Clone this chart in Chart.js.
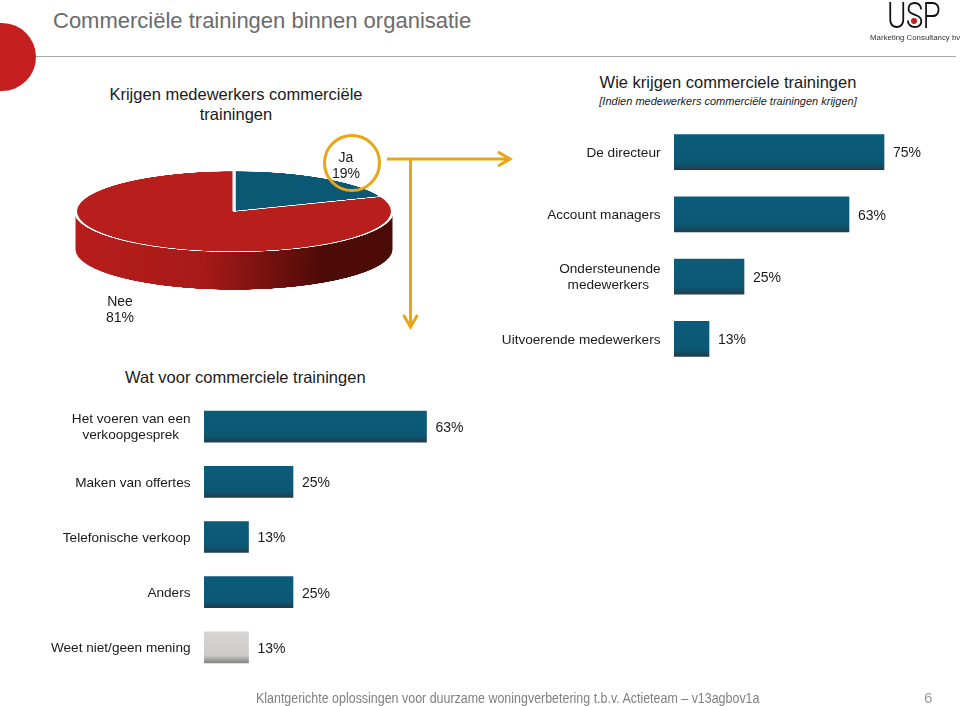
<!DOCTYPE html>
<html>
<head>
<meta charset="utf-8">
<title>Commerciële trainingen binnen organisatie</title>
<script src="https://cdn.jsdelivr.net/npm/chart.js@4"></script>
<style>
    html, body { margin: 0; padding: 0; background: #fff; }
    body { position: relative; width: 960px; height: 706px; overflow: hidden; font-family: "Liberation Sans", Arial, sans-serif; color: #1a1a1a; }
    .t { position: absolute; white-space: nowrap; line-height: 1; }
    .c { transform: translateX(-50%); text-align: center; }
    canvas { position: absolute; }
    #overlay { position: absolute; left: 0; top: 0; }
    #dot { position: absolute; left: -32px; top: 23px; width: 68px; height: 68px; border-radius: 50%; background: #c5201f; }
    #rule { position: absolute; left: 36px; top: 56px; width: 920px; height: 1px; background: #a9a9a9; }
</style>
</head>
<body>
<div id="dot"></div>
<div id="rule"></div>
<div class="t" style="left:53px;top:10px;font-size:22px;color:#6b6b6b">Commerciële trainingen binnen organisatie</div>

<div class="t c" style="left:236px;top:84px;font-size:16.500px;line-height:20px">Krijgen medewerkers commerciële<br>trainingen</div>
<div class="t c" style="left:728px;top:74px;font-size:16.500px">Wie krijgen commerciele trainingen</div>
<div class="t c" style="left:728px;top:96px;font-size:11px;font-style:italic">[Indien medewerkers commerciële trainingen krijgen]</div>
<div class="t" style="left:125px;top:369px;font-size:16.500px">Wat voor commerciele trainingen</div>

<canvas id="pieChart" width="340" height="500" style="left:64px;top:167.65px;width:340px;height:500px;transform-origin:0 0;transform:scaleY(0.255)"></canvas>
<canvas id="topChart" style="left:480px;top:121px"></canvas>
<canvas id="bottomChart" style="left:0;top:399px"></canvas>

<svg id="overlay" width="960" height="706">
    <circle cx="352" cy="163" r="27.5" fill="none" stroke="#e8a615" stroke-width="3"/>
    <path d="M387 159H509M498 152L510 159L498 166" fill="none" stroke="#e8a615" stroke-width="3"/>
    <path d="M410.500 159V326M403.500 315L410.500 327L417.500 315" fill="none" stroke="#e8a615" stroke-width="3"/>
</svg>

<div class="t c" style="left:346px;top:149px;font-size:14px;line-height:16px">Ja<br>19%</div>
<div class="t c" style="left:120px;top:293px;font-size:14px;line-height:16px">Nee<br>81%</div>

<div class="t" style="left:887px;top:-3px;font-size:37px;font-family:Roboto;font-weight:300;letter-spacing:-1px;color:#111;transform-origin:0 0;transform:scaleX(0.8)">USP</div>
<svg style="position:absolute;left:905px;top:12px" width="18" height="18"><circle cx="9" cy="9" r="3" fill="#c5201f"/></svg>
<div class="t" style="left:870px;top:34px;font-size:8px;color:#333;transform-origin:0 0;transform:scaleX(0.98)">Marketing Consultancy bv</div>

<div class="t" style="left:256px;top:691px;font-size:14px;color:#808080;transform-origin:0 0;transform:scaleX(0.889)">Klantgerichte oplossingen voor duurzame woningverbetering t.b.v. Actieteam – v13agbov1a</div>
<div class="t" style="left:924px;top:690px;font-size:15px;color:#9a9a9a">6</div>

<script>
    const pieLabels = ['Ja', 'Nee'];
    const pieValues = [19, 81];
    const pieColors = ['#0b5874', '#b71e1c'];

    const whoLabels = ['De directeur', 'Account managers', ['Ondersteunende', 'medewerkers'], 'Uitvoerende medewerkers'];
    const whoValues = [75, 62.5, 25, 12.5];
    const whoText = ['75%', '63%', '25%', '13%'];

    const whatLabels = [['Het voeren van een', 'verkoopgesprek'], 'Maken van offertes', 'Telefonische verkoop', 'Anders', 'Weet niet/geen mening'];
    const whatValues = [62.5, 25, 12.5, 25, 12.5];
    const whatText = ['63%', '25%', '13%', '25%', '13%'];
    const whatGrey = [false, false, false, false, true];

    Chart.defaults.animation = false;
    Chart.defaults.font.family = '"Liberation Sans", Arial, sans-serif';

    // side wall of the pie, drawn in the unsquashed canvas
    const pieWall = {
        id: 'pieWall',
        beforeDatasetsDraw(chart) {
            const arc = chart.getDatasetMeta(0).data[0];
            const ctx = chart.ctx;
            const h = 149;
            const grad = ctx.createLinearGradient(arc.x - arc.outerRadius, 0, arc.x + arc.outerRadius, 0);
            grad.addColorStop(0, '#b71e1c');
            grad.addColorStop(0.4, '#a81a18');
            grad.addColorStop(0.78, '#4d0b08');
            grad.addColorStop(1, '#4d0b08');
            ctx.save();
            ctx.fillStyle = grad;
            ctx.fillRect(arc.x - arc.outerRadius, arc.y, arc.outerRadius * 2, h);
            ctx.beginPath();
            ctx.arc(arc.x, arc.y + h, arc.outerRadius, 0, Math.PI);
            ctx.fill();
            ctx.restore();
        }
    };

    new Chart(document.getElementById('pieChart'), {
        type: 'pie',
        data: {
            labels: pieLabels,
            datasets: [{ data: pieValues, backgroundColor: pieColors, borderColor: '#fff', borderWidth: 3 }]
        },
        options: {
            responsive: false,
            layout: { padding: { top: 10, left: 10, right: 10, bottom: 170 } },
            plugins: { legend: { display: false }, tooltip: { enabled: false } }
        },
        plugins: [pieWall]
    });

    // percent text right of each bar
    const barText = {
        id: 'barText',
        afterDatasetsDraw(chart, args, opts) {
            const ctx = chart.ctx;
            ctx.save();
            ctx.font = '14px "Liberation Sans", Arial, sans-serif';
            ctx.fillStyle = '#1a1a1a';
            ctx.textBaseline = 'middle';
            chart.getDatasetMeta(0).data.forEach((bar, i) => {
                ctx.fillText(opts.text[i], bar.x + 9, bar.y + 1.5);
            });
            ctx.restore();
        }
    };

    function barFill(context, thickness, grey) {
        const chart = context.chart;
        const y = chart.scales.y ? chart.scales.y.getPixelForValue(context.dataIndex) : NaN;
        if (!Number.isFinite(y)) {
            return '#0b5874';
        }
        const grad = chart.ctx.createLinearGradient(0, y - thickness / 2, 0, y + thickness / 2);
        if (grey && grey[context.dataIndex]) {
            grad.addColorStop(0, '#d6d5d3');
            grad.addColorStop(0.75, '#cdccca');
            grad.addColorStop(1, '#858583');
        } else {
            grad.addColorStop(0, '#0b5b7a');
            grad.addColorStop(0.8, '#0b5874');
            grad.addColorStop(1, '#1f3d4b');
        }
        return grad;
    }

    function makeBars(id, axisWidth, labels, values, text, thickness, grey) {
        return new Chart(document.getElementById(id), {
            type: 'bar',
            data: {
                labels: labels,
                datasets: [{
                    data: values,
                    barThickness: thickness,
                    backgroundColor: (c) => barFill(c, thickness, grey)
                }]
            },
            options: {
                indexAxis: 'y',
                responsive: false,
                layout: { padding: 0 },
                scales: {
                    x: { display: false, min: 0, max: 100 },
                    y: {
                        afterFit(axis) {
                            axis.width = axisWidth;
                            // chart.js reserves room for the first and last label, not wanted here
                            axis.paddingTop = 0;
                            axis.paddingBottom = 0;
                        },
                        grid: { display: false, drawTicks: false },
                        border: { display: false },
                        ticks: {
                            color: '#1a1a1a',
                            padding: 13.5,
                            autoSkip: false,
                            labelOffset: 1,
                            font: { size: 13.6, lineHeight: 1.18 },
                            // two line labels are centred on each other in the original
                            callback(v, i) {
                                const l = labels[i];
                                return Array.isArray(l) ? [l[0], l[1] + '\u00a0\u00a0\u00a0'] : l;
                            }
                        }
                    }
                },
                plugins: { legend: { display: false }, tooltip: { enabled: false }, barText: { text: text } }
            },
            plugins: [barText]
        });
    }

    function sizeCanvas(id, w, h) {
        const el = document.getElementById(id);
        el.width = w;
        el.height = h;
        el.style.width = w + 'px';
        el.style.height = h + 'px';
    }

    sizeCanvas('topChart', 474, 249);
    sizeCanvas('bottomChart', 560, 276);
    makeBars('topChart', 194, whoLabels, whoValues, whoText, 35);
    makeBars('bottomChart', 204, whatLabels, whatValues, whatText, 31, whatGrey);
</script>
</body>
</html>
